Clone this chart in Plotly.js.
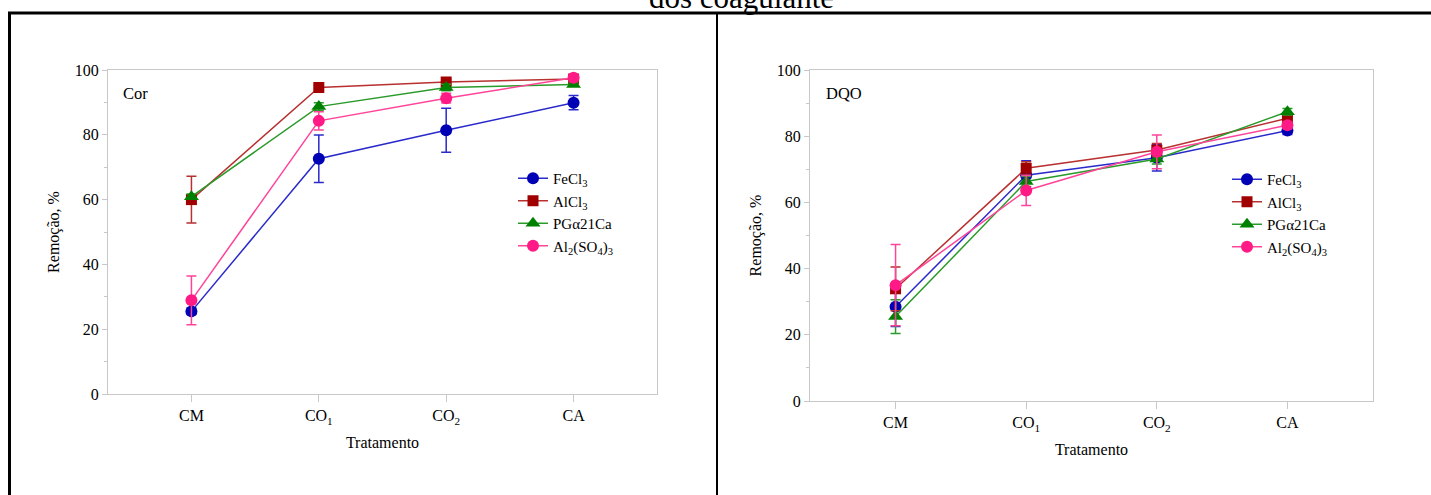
<!DOCTYPE html>
<html>
<head>
<meta charset="utf-8">
<script src="https://cdn.plot.ly/plotly-3.0.1.min.js"></script>
<style>
html,body{margin:0;padding:0;background:#fff;}
#chart{width:1431px;height:495px;}
</style>
</head>
<body>
<div id="chart"></div>
<script>
// ---- data ----
const categories = ['CM', 'CO<sub>1</sub>', 'CO<sub>2</sub>', 'CA'];
const seriesNames = ['FeCl<sub>3</sub>', 'AlCl<sub>3</sub>', 'PGα21Ca', 'Al<sub>2</sub>(SO<sub>4</sub>)<sub>3</sub>'];

// Cor (colour removal, %)
const corFeCl3 = [25.5, 72.6, 81.4, 89.9];
const corFeCl3Err = [1.0, 7.3, 6.8, 2.2];
const corAlCl3 = [60.0, 94.6, 96.3, 97.2];
const corAlCl3Err = [7.2, 0.6, 0.6, 0.6];
const corPG = [60.9, 88.7, 94.6, 95.5];
const corPGErr = [0.8, 1.2, 1.0, 0.5];
const corAl2SO4 = [28.9, 84.3, 91.3, 97.6];
const corAl2SO4Err = [7.5, 2.8, 1.5, 1.0];

// DQO (COD removal, %)
const dqoFeCl3 = [28.5, 68.2, 73.5, 81.7];
const dqoFeCl3Err = [6.0, 4.4, 4.0, 1.2];
const dqoAlCl3 = [33.9, 70.3, 75.8, 85.4];
const dqoAlCl3Err = [6.6, 2.0, 2.0, 1.0];
const dqoPG = [25.5, 66.3, 73.1, 87.4];
const dqoPGErr = [5.1, 1.5, 1.5, 1.0];
const dqoAl2SO4 = [35.0, 63.6, 75.3, 83.3];
const dqoAl2SO4Err = [12.3, 4.5, 5.1, 1.0];

// ---- styles ----
const lineColors = ['#2a2acc', '#b83030', '#2a9a2a', '#ff4499'];
const markerColors = ['#0000b4', '#a00000', '#008000', '#ff1a85'];
const symbols = ['circle', 'square', 'triangle-up', 'circle'];
const markerSizes = [12, 11, 13, 12];

const W = 1431, H = 495;
const px = v => v / W;
const py = v => 1 - v / H;
const FONT = 'Liberation Serif, Times New Roman, serif';

function mkTrace(i, y, err, xa, ya, legendId) {
  return {
    type: 'scatter', mode: 'lines+markers',
    x: categories, y: y,
    name: seriesNames[i],
    xaxis: xa, yaxis: ya, legend: legendId,
    line: {color: lineColors[i], width: 1.5},
    marker: {color: markerColors[i], symbol: symbols[i], size: markerSizes[i]},
    error_y: {type: 'data', array: err, visible: true, color: lineColors[i], thickness: 1.5, width: 5}
  };
}

const corY = [corFeCl3, corAlCl3, corPG, corAl2SO4];
const corE = [corFeCl3Err, corAlCl3Err, corPGErr, corAl2SO4Err];
const dqoY = [dqoFeCl3, dqoAlCl3, dqoPG, dqoAl2SO4];
const dqoE = [dqoFeCl3Err, dqoAlCl3Err, dqoPGErr, dqoAl2SO4Err];

const data = [];
for (let i = 0; i < 4; i++) data.push(mkTrace(i, corY[i], corE[i], 'x', 'y', 'legend'));
for (let i = 0; i < 4; i++) data.push(mkTrace(i, dqoY[i], dqoE[i], 'x2', 'y2', 'legend2'));

const axisLine = '#c8c8c8';
function xAxis(domain, anchor) {
  return {
    domain: domain, anchor: anchor, type: 'category',
    range: [-0.655, 3.655],
    showline: true, linecolor: axisLine, linewidth: 1, mirror: true,
    ticks: 'outside', ticklen: 7, tickcolor: axisLine,
    showgrid: false, zeroline: false,
    tickfont: {family: FONT, size: 16, color: '#000'},
    title: {text: 'Tratamento', font: {family: FONT, size: 16, color: '#000'}, standoff: 11},
    automargin: false, fixedrange: true
  };
}
function yAxis(domain, anchor) {
  return {
    domain: domain, anchor: anchor,
    range: [0, 100], dtick: 20,
    showline: true, linecolor: axisLine, linewidth: 1, mirror: true,
    ticks: 'outside', ticklen: 5, tickcolor: axisLine,
    minor: {dtick: 10, ticks: 'outside', ticklen: 3, tickcolor: axisLine},
    showgrid: false, zeroline: false,
    tickfont: {family: FONT, size: 16, color: '#000'},
    title: {text: 'Remoção, %', font: {family: FONT, size: 16, color: '#000'}, standoff: 11},
    automargin: false, fixedrange: true
  };
}

const legendBase = {
  font: {family: FONT, size: 15, color: '#000'},
  bgcolor: 'rgba(0,0,0,0)', borderwidth: 0,
  xanchor: 'left', yanchor: 'top', tracegroupgap: 0, itemwidth: 30
};

const layout = {
  width: W, height: H,
  margin: {l: 0, r: 0, t: 0, b: 0},
  paper_bgcolor: '#fff', plot_bgcolor: '#fff',
  font: {family: FONT, size: 16, color: '#000'},
  xaxis: xAxis([px(108), px(657)], 'y'),
  yaxis: yAxis([1 - 394 / H, 1 - 70 / H], 'x'),
  xaxis2: xAxis([px(810), px(1373)], 'y2'),
  yaxis2: yAxis([1 - 401 / H, 1 - 70 / H], 'x2'),
  legend: Object.assign({}, legendBase, {x: px(513), y: py(162)}),
  legend2: Object.assign({}, legendBase, {x: px(1227), y: py(163)}),
  annotations: [
    {xref: 'paper', yref: 'paper', x: px(121), y: py(93), xanchor: 'left', yanchor: 'middle',
     text: 'Cor', showarrow: false, font: {family: FONT, size: 16.5, color: '#000'}},
    {xref: 'paper', yref: 'paper', x: px(824), y: py(93), xanchor: 'left', yanchor: 'middle',
     text: 'DQO', showarrow: false, font: {family: FONT, size: 16.5, color: '#000'}},
    {xref: 'paper', yref: 'paper', x: px(741), y: py(17), xanchor: 'center', yanchor: 'bottom',
     text: 'dos coagulante', showarrow: false, font: {family: FONT, size: 31, color: '#000'}}
  ],
  shapes: [
    {type: 'line', xref: 'paper', yref: 'paper', x0: px(8), x1: 1, y0: py(13), y1: py(13), line: {color: '#000', width: 3}},
    {type: 'line', xref: 'paper', yref: 'paper', x0: px(9.5), x1: px(9.5), y0: py(12), y1: 0, line: {color: '#000', width: 3}},
    {type: 'line', xref: 'paper', yref: 'paper', x0: px(717), x1: px(717), y0: py(13), y1: 0, line: {color: '#000', width: 2}}
  ],
  showlegend: true
};

Plotly.newPlot('chart', data, layout, {staticPlot: true, displayModeBar: false});
</script>
</body>
</html>
